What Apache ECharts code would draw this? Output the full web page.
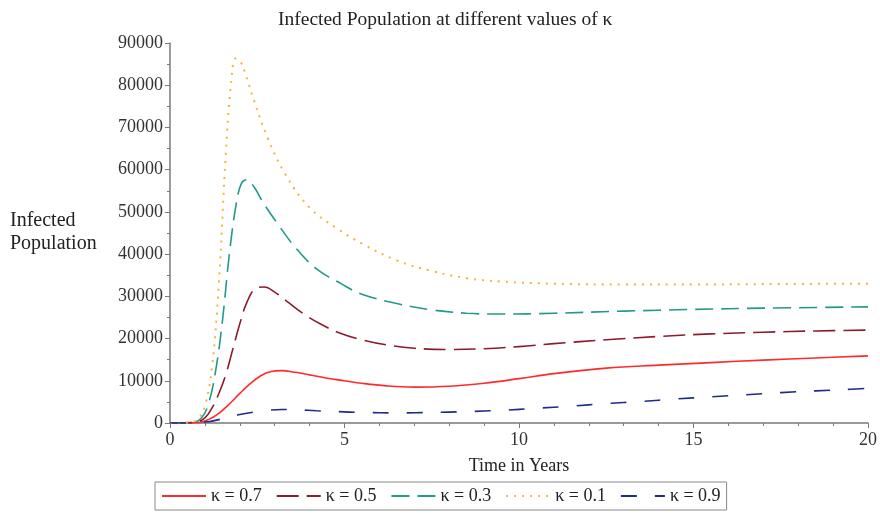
<!DOCTYPE html>
<html>
<head>
<meta charset="utf-8">
<script src="https://cdn.jsdelivr.net/npm/echarts@6/dist/echarts.min.js"></script>
<style>
html,body{margin:0;padding:0;background:#fff;}
#chart{width:880px;height:514px;}
</style>
</head>
<body>
<div id="chart"></div>
<script>
// ---- data ----
const seriesNames = ['κ = 0.7', 'κ = 0.5', 'κ = 0.3', 'κ = 0.1', 'κ = 0.9'];

const tK07 = [0, 0.8, 1.1, 1.4, 1.7, 2.0, 2.3, 2.6, 2.9, 3.2, 3.6, 4.0, 4.5, 5.0, 5.5, 6.2, 7, 8, 9, 10, 11, 12.5, 14, 15.5, 17, 18.5, 20];
const vK07 = [0, 100, 800, 2300, 4500, 7000, 9300, 11200, 12200, 12400, 12000, 11400, 10600, 10000, 9400, 8800, 8500, 8700, 9400, 10500, 11700, 13000, 13700, 14300, 14900, 15400, 15900];

const tK05 = [0, 0.7, 1.0, 1.2, 1.4, 1.6, 1.8, 2.0, 2.2, 2.45, 2.7, 3.0, 3.4, 3.8, 4.3, 4.9, 5.5, 6.2, 7, 8, 9, 10, 11, 12.5, 14, 15.5, 17, 18.5, 20];
const vK05 = [0, 100, 1200, 3500, 7000, 11500, 17500, 23500, 28500, 31800, 32200, 31000, 28500, 26000, 23500, 21200, 19700, 18500, 17700, 17400, 17600, 18100, 18800, 19700, 20500, 21100, 21500, 21800, 22000];

const tK03 = [0, 0.6, 0.9, 1.1, 1.3, 1.5, 1.7, 1.9, 2.05, 2.2, 2.4, 2.7, 3.1, 3.6, 4.2, 4.9, 5.5, 6.5, 7.5, 8.5, 9.5, 11, 13, 15, 17, 20];
const vK03 = [0, 100, 1200, 4500, 12000, 24000, 40000, 52000, 56800, 57600, 56000, 51800, 47000, 41500, 36500, 33000, 30500, 28300, 26800, 26000, 25800, 26000, 26500, 26900, 27200, 27500];

const tK01 = [0, 0.5, 0.8, 1.0, 1.2, 1.4, 1.6, 1.75, 1.88, 2.0, 2.15, 2.4, 2.8, 3.3, 4.0, 4.8, 5.5, 6.5, 7.5, 8.5, 9.5, 11, 13, 15, 17, 20];
const vK01 = [0, 100, 1000, 4000, 13000, 33000, 64000, 80500, 86300, 85800, 83000, 76500, 67500, 59000, 51000, 46000, 42500, 38500, 36000, 34300, 33500, 33000, 32800, 32800, 32900, 33000];

const tK09 = [0, 0.8, 1.1, 1.4, 1.7, 2.0, 2.4, 2.8, 3.2, 3.7, 4.2, 4.8, 5.5, 6.5, 7.5, 8.5, 9.5, 10.5, 11.5, 12.5, 13.5, 14.5, 15.5, 16.5, 17.5, 18.5, 19.5, 20];
const vK09 = [0, 50, 300, 800, 1400, 2000, 2600, 3000, 3200, 3100, 2900, 2700, 2500, 2400, 2500, 2700, 3000, 3500, 4000, 4600, 5100, 5700, 6200, 6700, 7200, 7600, 8000, 8200];

const yTicks = [0, 10000, 20000, 30000, 40000, 50000, 60000, 70000, 80000, 90000];
const xTicks = [0, 5, 10, 15, 20];

const titleText = 'Infected Population at different values of κ';
const xName = 'Time in Years';
const yName = 'Infected\nPopulation';

function pairs(t, v) { return t.map((x, i) => [x, v[i]]); }

const FONT = '"Liberation Serif", "Times New Roman", serif';

const styles = [
  { color: '#ff2a2a', type: 'solid', width: 1.6 },
  { color: '#8c1c2c', type: [22, 8], width: 1.6 },
  { color: '#24998a', type: [18, 8], width: 1.6 },
  { color: '#f2b33d', type: [2, 6], width: 2 },
  { color: '#1f2a8a', type: [16, 18], width: 1.6 }
];
const datasets = [pairs(tK07, vK07), pairs(tK05, vK05), pairs(tK03, vK03), pairs(tK01, vK01), pairs(tK09, vK09)];

const chart = echarts.init(document.getElementById('chart'), null, { renderer: 'canvas' });
chart.setOption({
  backgroundColor: '#fff',
  animation: false,
  title: {
    text: titleText,
    left: 273,
    top: 5,
    textStyle: { fontFamily: FONT, fontSize: 19.5, fontWeight: 'normal', color: '#222' }
  },
  grid: { left: 170, right: 10, top: 43, bottom: 91, containLabel: false },
  xAxis: {
    type: 'value',
    min: 0, max: 20, interval: 5,
    name: xName,
    nameLocation: 'middle',
    nameGap: 34,
    nameTextStyle: { fontFamily: FONT, fontSize: 18, color: '#222' },
    axisLine: { show: true, lineStyle: { color: '#7a7a7a', width: 1.5 } },
    axisTick: { show: true, length: 5, lineStyle: { color: '#7a7a7a' } },
    minorTick: { show: true, splitNumber: 5, length: 3, lineStyle: { color: '#7a7a7a' } },
    axisLabel: { fontFamily: FONT, fontSize: 18, color: '#333', margin: 8,
      formatter: v => xTicks.includes(v) ? String(v) : '' },
    splitLine: { show: false }
  },
  yAxis: {
    type: 'value',
    min: 0, max: 90000, interval: 10000,
    axisLine: { show: true, lineStyle: { color: '#7a7a7a', width: 1.5 } },
    axisTick: { show: true, length: 5, lineStyle: { color: '#7a7a7a' } },
    minorTick: { show: true, splitNumber: 2, length: 3, lineStyle: { color: '#7a7a7a' } },
    axisLabel: { fontFamily: FONT, fontSize: 18, color: '#333', margin: 7,
      formatter: v => yTicks.includes(v) ? String(v) : '' },
    splitLine: { show: false }
  },
  graphic: [{
    type: 'text',
    left: 10, top: 209,
    style: { text: yName, font: '20px ' + FONT, fill: '#222', lineHeight: 23 }
  }],
  legend: {
    left: 155, top: 482,
    orient: 'horizontal',
    borderColor: '#888', borderWidth: 1,
    padding: [5, 6],
    itemWidth: 44, itemHeight: 12, itemGap: 14,
    itemStyle: { opacity: 0 },
    textStyle: { fontFamily: FONT, fontSize: 18, color: '#222' },
    data: seriesNames
  },
  series: seriesNames.map((n, i) => ({
    name: n,
    type: 'line',
    data: datasets[i],
    smooth: 0.4,
    showSymbol: false,
    symbol: 'none',
    lineStyle: styles[i],
    itemStyle: { color: styles[i].color },
    z: 2 + i
  }))
});
</script>
</body>
</html>
